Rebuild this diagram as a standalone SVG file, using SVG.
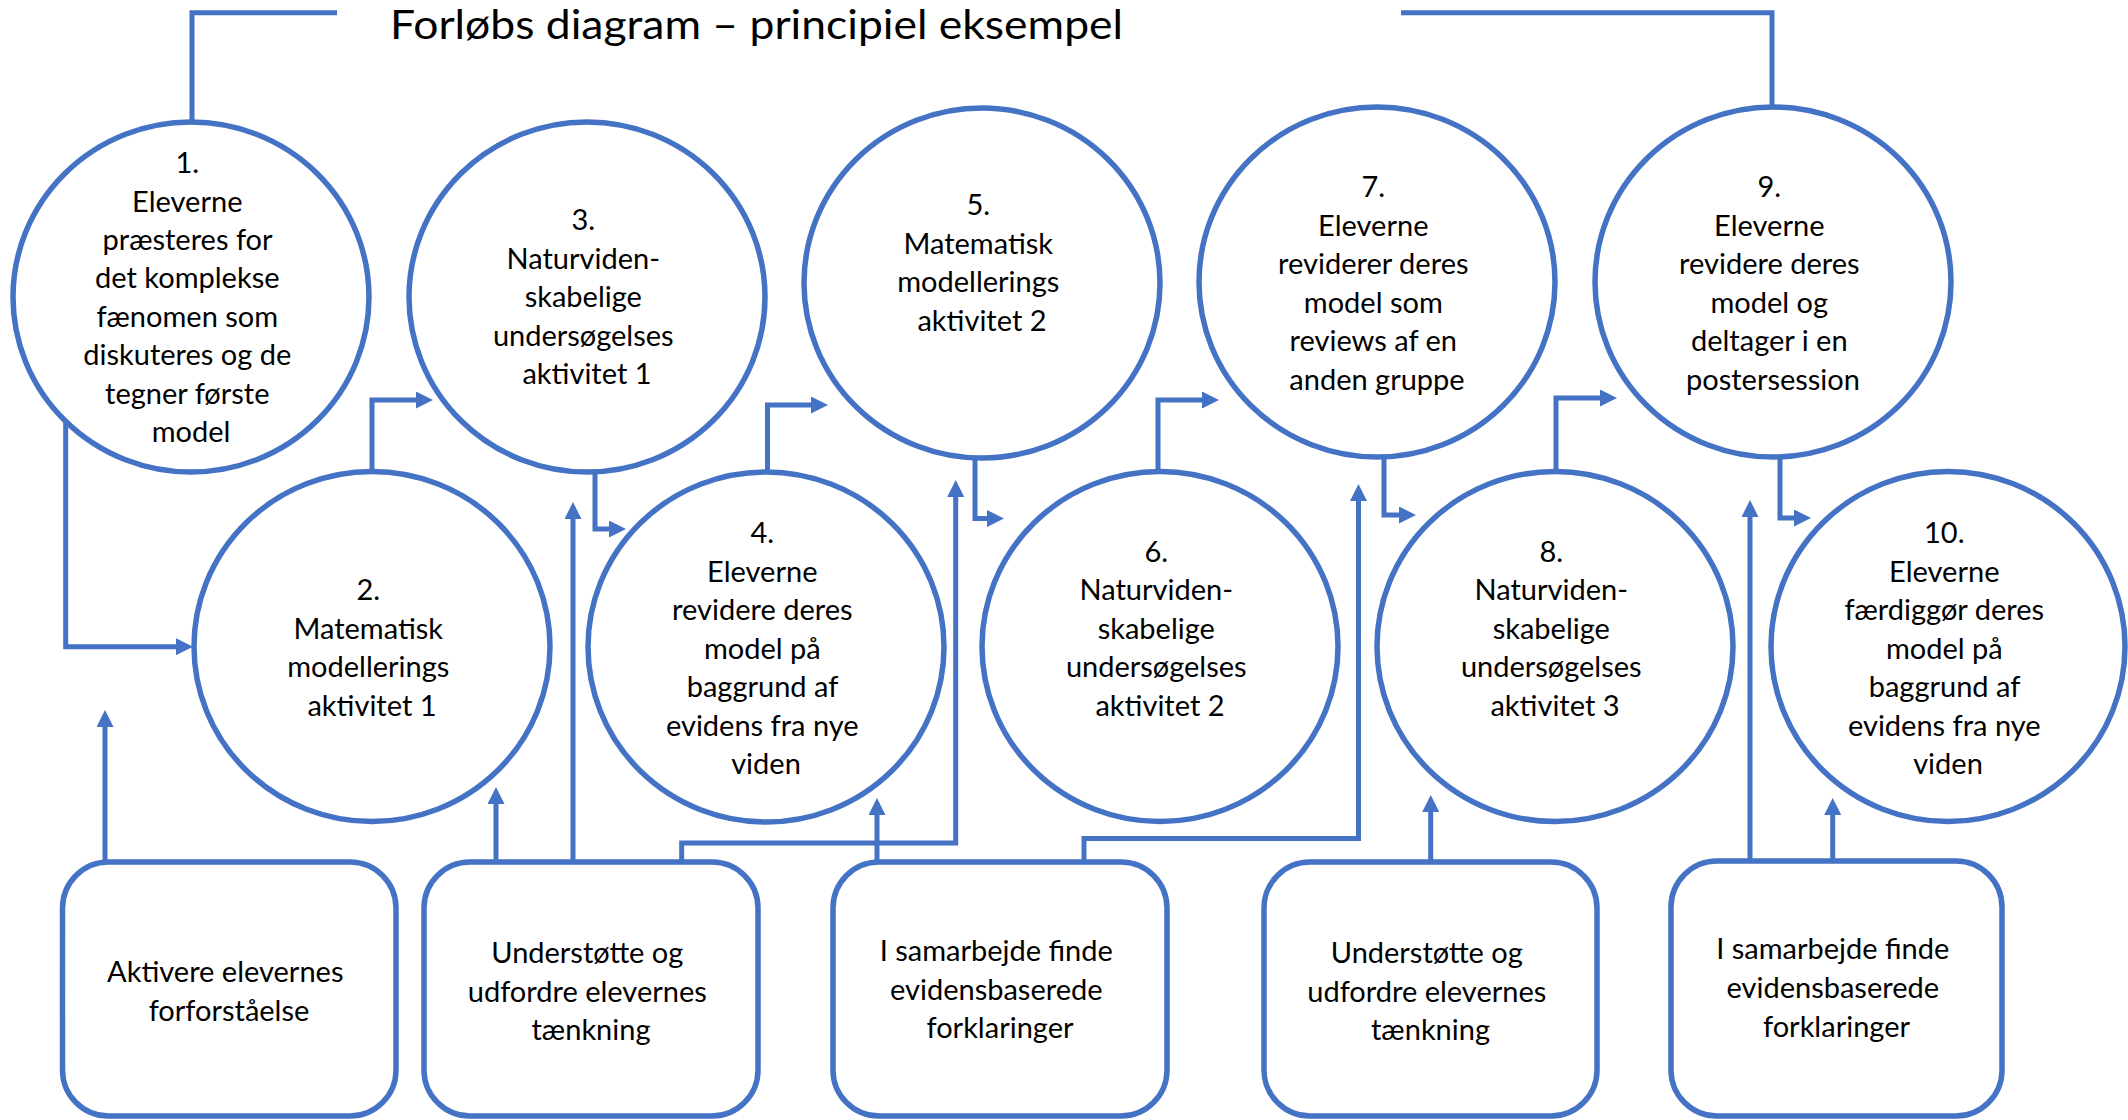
<svg xmlns="http://www.w3.org/2000/svg" width="2128" height="1120" viewBox="0 0 2128 1120">
  <defs>
    <style>
      .node { fill: #ffffff; stroke: #4472C4; stroke-width: 5.5; }
      .link { fill: none; stroke: #4472C4; stroke-width: 5; marker-end: url(#arrow); }
      .plain { fill: none; stroke: #4472C4; stroke-width: 5; }
      .lbl { font-family: Lato, "Open Sans", "Liberation Sans", sans-serif; font-size: 29px; fill: #000000; text-anchor: middle; }
      .title { font-family: Lato, "Open Sans", "Liberation Sans", sans-serif; font-size: 41px; fill: #000000; }
    </style>
    <marker id="arrow" markerUnits="userSpaceOnUse" viewBox="0 0 17 17" refX="8" refY="8.5" markerWidth="17" markerHeight="17" orient="auto">
      <path d="M0,0 L17,8.5 L0,17 Z" fill="#4472C4"/>
    </marker>
  </defs>
  <rect width="2128" height="1120" fill="#ffffff"/>

  <!-- heading with its bracket lines -->
  <g id="title">
    <path class="plain" d="M337,12.7 H192 V121"/>
    <path class="plain" d="M1401,12.7 H1772 V107"/>
    <text class="title" x="390" y="39" textLength="733" lengthAdjust="spacingAndGlyphs">Forløbs diagram – principiel eksempel</text>
  </g>

  <!-- connectors -->
  <g id="connectors">
    <path class="link" d="M65.7,422 V646.7 H184"/>
    <path class="link" d="M372,471 V400 H424"/>
    <path class="link" d="M595,472 V529 H617"/>
    <path class="link" d="M767.5,472 V405 H819"/>
    <path class="link" d="M975,458 V518.5 H995"/>
    <path class="link" d="M1158,471 V400 H1210"/>
    <path class="link" d="M1384,457 V515 H1407"/>
    <path class="link" d="M1556,471 V398 H1608"/>
    <path class="link" d="M1780,457 V518 H1802"/>

    <path class="link" d="M105,862 V719"/>
    <path class="link" d="M496,862 V796"/>
    <path class="link" d="M573,862 V511"/>
    <path class="link" d="M681.7,862 V843 H955.7 V489"/>
    <path class="link" d="M877,862 V807"/>
    <path class="link" d="M1084,867 V838.5 H1358.5 V493"/>
    <path class="link" d="M1430.7,862 V804"/>
    <path class="link" d="M1750,861 V509"/>
    <path class="link" d="M1832.7,861 V807"/>
  </g>

  <!-- activity circles -->
  <g id="step1">
    <ellipse class="node" cx="191" cy="297" rx="178" ry="175"/>
    <text class="lbl">
      <tspan x="191" y="173">1.</tspan>
      <tspan x="191" y="211.5">Eleverne</tspan>
      <tspan x="191" y="250">præsteres for</tspan>
      <tspan x="191" y="288">det komplekse</tspan>
      <tspan x="191" y="326.5">fænomen som</tspan>
      <tspan x="191" y="365">diskuteres og de</tspan>
      <tspan x="191" y="403.5">tegner første</tspan>
      <tspan x="191" y="442">model</tspan>
    </text>
  </g>
  <g id="step2">
    <ellipse class="node" cx="372" cy="646.5" rx="178" ry="175"/>
    <text class="lbl">
      <tspan x="372" y="600">2.</tspan>
      <tspan x="372" y="638.5">Matematisk</tspan>
      <tspan x="372" y="677">modellerings</tspan>
      <tspan x="372" y="715.5">aktivitet 1</tspan>
    </text>
  </g>
  <g id="step3">
    <ellipse class="node" cx="587" cy="297" rx="178" ry="175"/>
    <text class="lbl">
      <tspan x="587" y="230">3.</tspan>
      <tspan x="587" y="268.5">Naturviden-</tspan>
      <tspan x="587" y="307">skabelige</tspan>
      <tspan x="587" y="345.5">undersøgelses</tspan>
      <tspan x="587" y="384">aktivitet 1</tspan>
    </text>
  </g>
  <g id="step4">
    <ellipse class="node" cx="766" cy="647" rx="178" ry="175"/>
    <text class="lbl">
      <tspan x="766" y="543">4.</tspan>
      <tspan x="766" y="581.5">Eleverne</tspan>
      <tspan x="766" y="620">revidere deres</tspan>
      <tspan x="766" y="658.5">model på</tspan>
      <tspan x="766" y="697">baggrund af</tspan>
      <tspan x="766" y="735.5">evidens fra nye</tspan>
      <tspan x="766" y="774">viden</tspan>
    </text>
  </g>
  <g id="step5">
    <ellipse class="node" cx="982" cy="283" rx="178" ry="175"/>
    <text class="lbl">
      <tspan x="982" y="215">5.</tspan>
      <tspan x="982" y="253.5">Matematisk</tspan>
      <tspan x="982" y="292">modellerings</tspan>
      <tspan x="982" y="330.5">aktivitet 2</tspan>
    </text>
  </g>
  <g id="step6">
    <ellipse class="node" cx="1160" cy="646.5" rx="178" ry="175"/>
    <text class="lbl">
      <tspan x="1160" y="561.5">6.</tspan>
      <tspan x="1160" y="600">Naturviden-</tspan>
      <tspan x="1160" y="638.5">skabelige</tspan>
      <tspan x="1160" y="677">undersøgelses</tspan>
      <tspan x="1160" y="715.5">aktivitet 2</tspan>
    </text>
  </g>
  <g id="step7">
    <ellipse class="node" cx="1377" cy="282" rx="178" ry="175"/>
    <text class="lbl">
      <tspan x="1377" y="197">7.</tspan>
      <tspan x="1377" y="235.5">Eleverne</tspan>
      <tspan x="1377" y="274">reviderer deres</tspan>
      <tspan x="1377" y="312.5">model som</tspan>
      <tspan x="1377" y="351">reviews af en</tspan>
      <tspan x="1377" y="389.5">anden gruppe</tspan>
    </text>
  </g>
  <g id="step8">
    <ellipse class="node" cx="1555" cy="646.5" rx="178" ry="175"/>
    <text class="lbl">
      <tspan x="1555" y="561.5">8.</tspan>
      <tspan x="1555" y="600">Naturviden-</tspan>
      <tspan x="1555" y="638.5">skabelige</tspan>
      <tspan x="1555" y="677">undersøgelses</tspan>
      <tspan x="1555" y="715.5">aktivitet 3</tspan>
    </text>
  </g>
  <g id="step9">
    <ellipse class="node" cx="1773" cy="282" rx="178" ry="175"/>
    <text class="lbl">
      <tspan x="1773" y="197">9.</tspan>
      <tspan x="1773" y="235.5">Eleverne</tspan>
      <tspan x="1773" y="274">revidere deres</tspan>
      <tspan x="1773" y="312.5">model og</tspan>
      <tspan x="1773" y="351">deltager i en</tspan>
      <tspan x="1773" y="389.5">postersession</tspan>
    </text>
  </g>
  <g id="step10">
    <ellipse class="node" cx="1948" cy="646.5" rx="177" ry="175"/>
    <text class="lbl">
      <tspan x="1948" y="543">10.</tspan>
      <tspan x="1948" y="581.5">Eleverne</tspan>
      <tspan x="1948" y="620">færdiggør deres</tspan>
      <tspan x="1948" y="658.5">model på</tspan>
      <tspan x="1948" y="697">baggrund af</tspan>
      <tspan x="1948" y="735.5">evidens fra nye</tspan>
      <tspan x="1948" y="774">viden</tspan>
    </text>
  </g>

  <!-- teacher role boxes -->
  <g id="role1">
    <rect class="node" x="62.5" y="862" width="333.5" height="254" rx="46"/>
    <text class="lbl">
      <tspan x="229" y="982">Aktivere elevernes</tspan>
      <tspan x="229" y="1021">forforståelse</tspan>
    </text>
  </g>
  <g id="role2">
    <rect class="node" x="424" y="862" width="334" height="254" rx="46"/>
    <text class="lbl">
      <tspan x="591" y="963">Understøtte og</tspan>
      <tspan x="591" y="1002">udfordre elevernes</tspan>
      <tspan x="591" y="1040">tænkning</tspan>
    </text>
  </g>
  <g id="role3">
    <rect class="node" x="833" y="862" width="334" height="254" rx="46"/>
    <text class="lbl">
      <tspan x="1000" y="961">I samarbejde finde</tspan>
      <tspan x="1000" y="999.5">evidensbaserede</tspan>
      <tspan x="1000" y="1038">forklaringer</tspan>
    </text>
  </g>
  <g id="role4">
    <rect class="node" x="1264" y="862" width="333" height="254" rx="46"/>
    <text class="lbl">
      <tspan x="1430.5" y="963">Understøtte og</tspan>
      <tspan x="1430.5" y="1002">udfordre elevernes</tspan>
      <tspan x="1430.5" y="1040">tænkning</tspan>
    </text>
  </g>
  <g id="role5">
    <rect class="node" x="1671" y="861" width="331" height="255" rx="46"/>
    <text class="lbl">
      <tspan x="1836.5" y="959">I samarbejde finde</tspan>
      <tspan x="1836.5" y="998">evidensbaserede</tspan>
      <tspan x="1836.5" y="1037">forklaringer</tspan>
    </text>
  </g>
</svg>
